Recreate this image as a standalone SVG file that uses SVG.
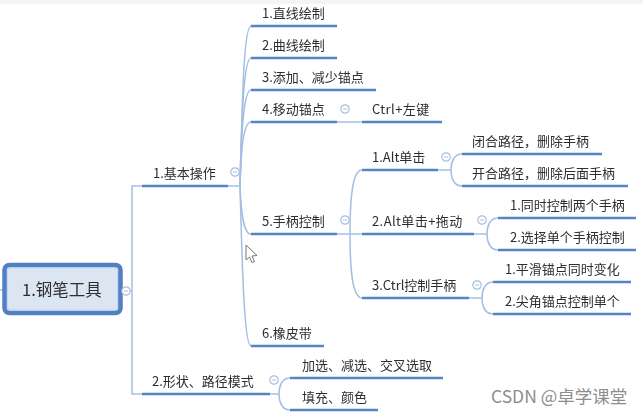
<svg xmlns="http://www.w3.org/2000/svg" width="643" height="416" viewBox="0 0 643 416">
<defs>
<filter id="soft" x="-5%" y="-5%" width="110%" height="110%"><feGaussianBlur stdDeviation="0.45"/></filter>
<g id="minus"><circle r="4.200" fill="#fff" stroke="#a9bfdf" stroke-width="1.200"/><path d="M-2 0H2" stroke="#a9bfdf" stroke-width="1"/></g>
</defs>
<style>
text{font-family:"Noto Sans CJK SC","Liberation Sans",sans-serif;font-size:13px;fill:#2e2e2e}
.u{stroke:#5585c4;stroke-width:2.600;fill:none}
.c{stroke:#a5bfe3;stroke-width:1.500;fill:none}
</style>
<rect width="643" height="416" fill="#fff"/>
<rect width="643" height="4" fill="#f4f4f4"/>
<g filter="url(#soft)">
<g id="connectors">
<path class="c" d="M0 290H4M123 291H132M142 186H132V394H142"/>
<path class="c" d="M228 186H240"/>
<path class="c" d="M240 186C242 120 243 26 251 26"/>
<path class="c" d="M240 186C241.500 130 243 58 251 58"/>
<path class="c" d="M240 186C241 140 243 90 251 90"/>
<path class="c" d="M240 186C241 160 242 122 251 122"/>
<path class="c" d="M240 186C241 210 243 234 251 234"/>
<path class="c" d="M240 186C242 260 244 346 251 346"/>
<path class="c" d="M337 122H362M337 234H362"/>
<path class="c" d="M350 234C350 200 352 170 362 170"/>
<path class="c" d="M350 234C350 268 352 298 362 298"/>
<path class="c" d="M438 170H451M462 154C454 154 451 162 451 170C451 178 454 186 462 186"/>
<path class="c" d="M474 234H487M498 218C490 218 487 226 487 234C487 242 490 250 498 250"/>
<path class="c" d="M469 298H482M493 282C485 282 482 290 482 298C482 306 485 314 493 314"/>
<path class="c" d="M270 394H279M290 378C282 378 279 386 279 394C279 402 282 410 290 410"/>
</g>
<g id="n-root">
<rect x="4.500" y="265" width="116" height="48" rx="5" fill="#dce6f2" stroke="#5080c4" stroke-width="4.500"/>
<rect x="7.500" y="268" width="110" height="42" rx="3" fill="none" stroke="#c3d4ec" stroke-width="1"/>
<text x="22" y="296" style="font-size:16.500px">1.钢笔工具</text>
<use href="#minus" x="126" y="291"/>
</g>
<g id="n-basic"><path class="u" d="M142 186H228"/><text x="153" y="178">1.基本操作</text><use href="#minus" x="235" y="172"/></g>
<g id="n-shape"><path class="u" d="M142 394H270"/><text x="152" y="386">2.形状、路径模式</text><use href="#minus" x="274" y="380"/></g>
<g id="n-a1"><path class="u" d="M251 26H337"/><text x="262" y="18">1.直线绘制</text></g>
<g id="n-a2"><path class="u" d="M251 58H337"/><text x="262" y="50">2.曲线绘制</text></g>
<g id="n-a3"><path class="u" d="M251 90H376"/><text x="262" y="82">3.添加、减少锚点</text></g>
<g id="n-a4"><path class="u" d="M251 122H337"/><text x="262" y="114">4.移动锚点</text><use href="#minus" x="345" y="109"/></g>
<g id="n-a5"><path class="u" d="M251 234H337"/><text x="262" y="226">5.手柄控制</text><use href="#minus" x="345" y="220"/></g>
<g id="n-a6"><path class="u" d="M251 346H324"/><text x="262" y="338">6.橡皮带</text></g>
<g id="n-ctrl"><path class="u" d="M362 122H442"/><text x="372" y="114" style="letter-spacing:.4px">Ctrl+左键</text></g>
<g id="n-b1"><path class="u" d="M362 170H438"/><text x="372" y="162">1.Alt单击</text><use href="#minus" x="446" y="157"/></g>
<g id="n-b2"><path class="u" d="M362 234H474"/><text x="372" y="226" style="letter-spacing:.4px">2.Alt单击+拖动</text><use href="#minus" x="482" y="220"/></g>
<g id="n-b3"><path class="u" d="M362 298H469"/><text x="372" y="290">3.Ctrl控制手柄</text><use href="#minus" x="477" y="285"/></g>
<g id="n-c1"><path class="u" d="M462 154H602"/><text x="472" y="146">闭合路径，删除手柄</text></g>
<g id="n-c2"><path class="u" d="M462 186H628"/><text x="472" y="178">开合路径，删除后面手柄</text></g>
<g id="n-c3"><path class="u" d="M498 218H636"/><text x="510" y="210">1.同时控制两个手柄</text></g>
<g id="n-c4"><path class="u" d="M498 250H636"/><text x="510" y="242">2.选择单个手柄控制</text></g>
<g id="n-c5"><path class="u" d="M493 282H631"/><text x="505" y="274">1.平滑锚点同时变化</text></g>
<g id="n-c6"><path class="u" d="M493 314H631"/><text x="505" y="306">2.尖角锚点控制单个</text></g>
<g id="n-d1"><path class="u" d="M290 378H443"/><text x="302" y="370">加选、减选、交叉选取</text></g>
<g id="n-d2"><path class="u" d="M290 410H378"/><text x="302" y="402">填充、颜色</text></g>
<path d="M246 245V260L249.500 257L252 262.500L254.500 261.500L252 256L257 255.500Z" fill="#fff" stroke="#777" stroke-width="1"/>
</g>
<text x="491" y="403" style="font-size:17.500px;fill:#8d8d8d">CSDN @卓学课堂</text>
</svg>
